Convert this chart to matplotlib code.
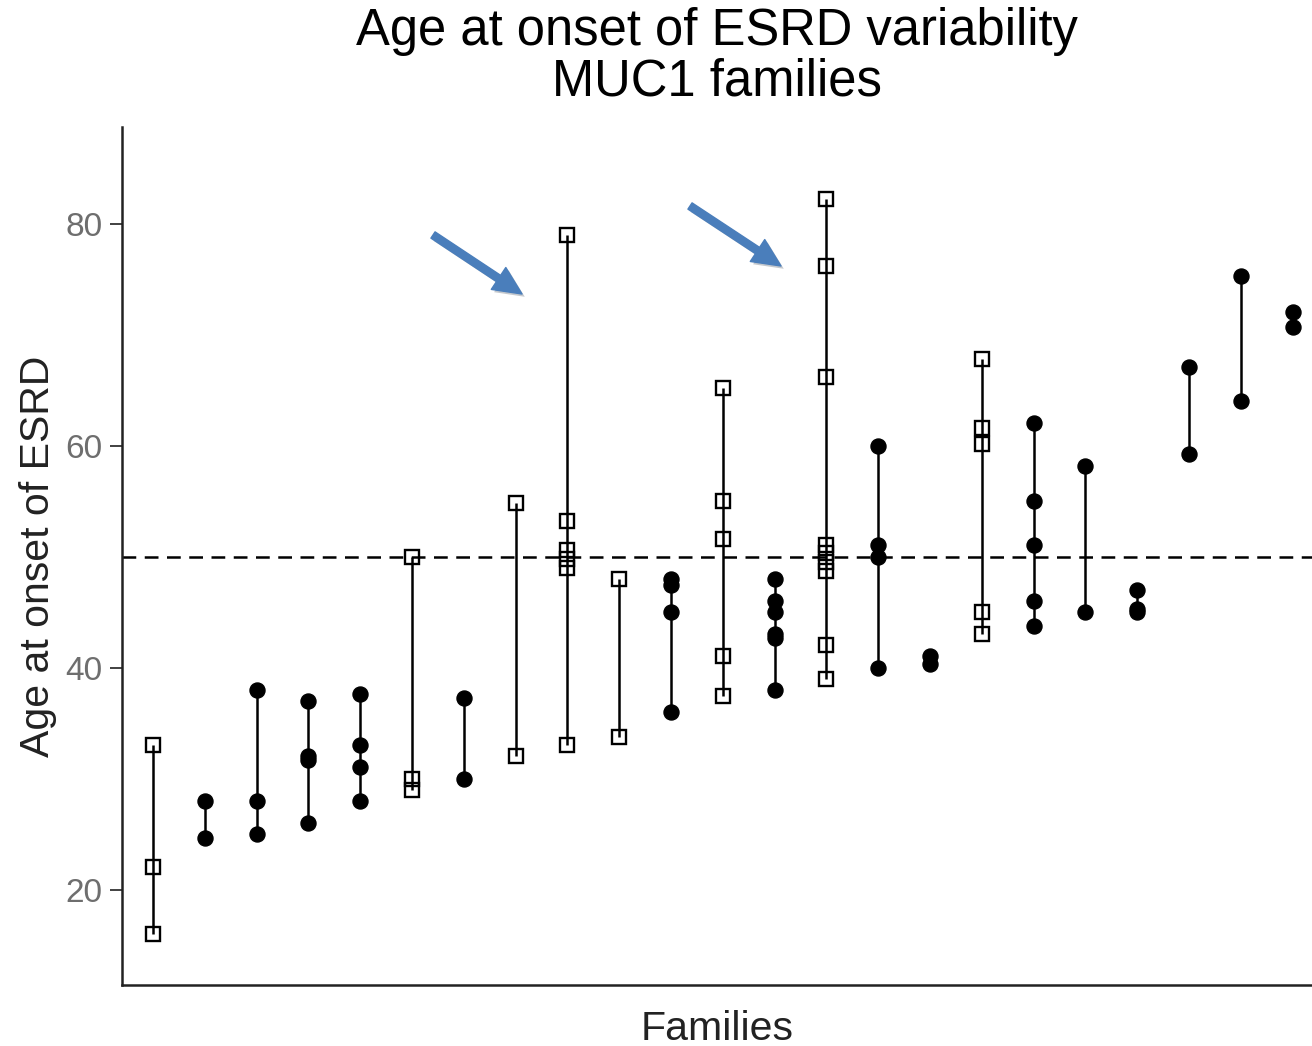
import matplotlib
matplotlib.use("Agg")
import matplotlib.pyplot as plt
import matplotlib.patheffects as pe

plt.rcParams['font.family'] = ['Liberation Sans', 'DejaVu Sans']

# Age at onset of ESRD for affected members of each family
family_ids = list(range(1, 24))
onset_ages = [
    [33, 22, 16],
    [28, 24.6],
    [38, 28, 25],
    [37, 32, 31.7, 26],
    [37.6, 33, 31, 28],
    [50, 30, 29],
    [37.3, 30],
    [54.8, 32],
    [79, 53.2, 50.6, 49.8, 49, 33],
    [48, 33.7],
    [48, 47.4, 45, 36],
    [65.2, 55, 51.6, 41, 37.4],
    [48, 46, 45, 43, 42.7, 38],
    [82.2, 76.2, 66.2, 51, 50.3, 49.5, 48.7, 42, 39],
    [60, 51, 50, 40],
    [41, 40.3],
    [67.8, 61.6, 60.1, 45, 43],
    [62, 55, 51, 46, 43.7],
    [58.2, 45],
    [47, 45.3, 45],
    [67.1, 59.2],
    [75.3, 64],
    [72, 70.7],
]
# marker type per family: 's' open square, 'o' filled circle
family_markers = ['s', 'o', 'o', 'o', 'o', 's', 'o', 's', 's', 's', 'o', 's',
                  'o', 's', 'o', 'o', 's', 'o', 'o', 'o', 'o', 'o', 'o']
reference_age = 50
y_ticks = [20, 40, 60, 80]

fig = plt.figure(figsize=(13.12, 10.46), dpi=100)
ax = fig.add_axes([122 / 1312, 1 - 985 / 1046, 1 - 122 / 1312, (985 - 127) / 1046])

for fam, ages, mk in zip(family_ids, onset_ages, family_markers):
    xs = [fam] * len(ages)
    ax.plot([fam, fam], [min(ages), max(ages)], color='black', lw=1.8, zorder=2,
            solid_capstyle='butt')
    if mk == 's':
        ax.plot(xs, ages, linestyle='none', marker='s', markersize=10.5,
                markerfacecolor='none', markeredgecolor='black',
                markeredgewidth=1.7, zorder=3)
    else:
        ax.plot(xs, ages, linestyle='none', marker='o', markersize=10.8,
                markerfacecolor='black', markeredgecolor='black', zorder=3)

ax.axhline(reference_age, color='black', lw=1.8, linestyle=(0, (5.5, 3.4)), zorder=1)

ax.set_xlim(0.4, 0.4 + 1190 / 51.8)
ax.set_ylim(11.4, 88.7)
ax.set_xticks([])
ax.set_yticks(y_ticks)
ax.tick_params(axis='y', length=9, width=1.3, color='#333333', labelsize=24,
               labelcolor='#6e6e6e', pad=5)
for side in ['top', 'right']:
    ax.spines[side].set_visible(False)
for side in ['left', 'bottom']:
    ax.spines[side].set_linewidth(1.8)
    ax.spines[side].set_color('#222222')

ax.set_xlabel('Families', fontsize=29.5, color='#222222', labelpad=18)
ax.set_ylabel('Age at onset of ESRD', fontsize=29.5, color='#222222', labelpad=6)

fig.text((122 + 1312) / 2 / 1312, 1 - 31 / 1046, 'Age at onset of ESRD variability',
         ha='center', va='center', fontsize=36.5, color='black')
fig.text((122 + 1312) / 2 / 1312, 1 - 82 / 1046, 'MUC1 families',
         ha='center', va='center', fontsize=36.5, color='black')

# highlight arrows pointing at the two widest families
arrow_color = '#4a7ebb'
for (x0, y0), (x1, y1) in [((433, 235), (522, 294)), ((690, 206), (781, 266))]:
    ann = ax.annotate('', xy=(x1 / 1312, 1 - y1 / 1046), xytext=(x0 / 1312, 1 - y0 / 1046),
                      xycoords='figure fraction', textcoords='figure fraction',
                      arrowprops=dict(arrowstyle='simple,head_width=0.7,head_length=0.75,tail_width=0.2',
                                      color=arrow_color, shrinkA=0, shrinkB=0,
                                      mutation_scale=27))
    ann.arrow_patch.set_path_effects([pe.SimplePatchShadow(offset=(2, -2), alpha=0.25),
                                      pe.Normal()])

fig.savefig('out.png', dpi=100)
